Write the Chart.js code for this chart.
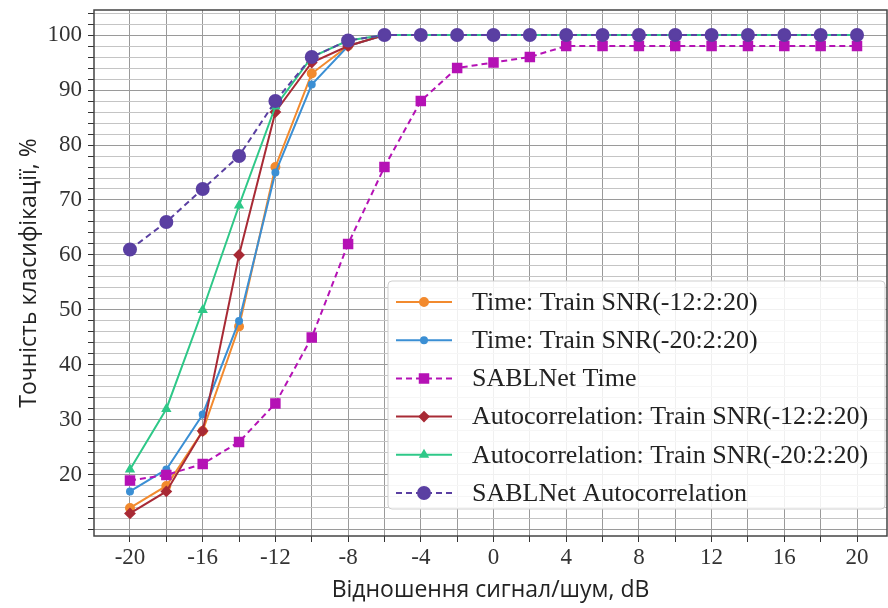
<!DOCTYPE html>
<html>
<head>
<meta charset="utf-8">
<script src="https://cdn.jsdelivr.net/npm/chart.js@4.4.1/dist/chart.umd.min.js"></script>
<style>
  html, body { margin: 0; padding: 0; background: #fff; }
  #wrap { width: 888px; height: 608px; position: relative; }
</style>
</head>
<body>
<div id="wrap"><canvas id="acc" width="888" height="608"></canvas></div>
<script>
// SNR values, dB
let snr = [-20, -18, -16, -14, -12, -10, -8, -6, -4, -2, 0, 2, 4, 6, 8, 10, 12, 14, 16, 18, 20];

// accuracy, %
let timeTrain12 = [14, 18, 28, 47, 76, 93, 98, 100, 100, 100, 100, 100, 100, 100, 100, 100, 100, 100, 100, 100, 100];
let timeTrain20 = [17, 21, 31, 48, 75, 91, 98, 100, 100, 100, 100, 100, 100, 100, 100, 100, 100, 100, 100, 100, 100];
let sablTime = [19, 20, 22, 26, 33, 45, 62, 76, 88, 94, 95, 96, 98, 98, 98, 98, 98, 98, 98, 98, 98];
let autoTrain12 = [13, 17, 28, 60, 86, 95, 98, 100, 100, 100, 100, 100, 100, 100, 100, 100, 100, 100, 100, 100, 100];
let autoTrain20 = [21, 32, 50, 69, 87, 96, 99, 100, 100, 100, 100, 100, 100, 100, 100, 100, 100, 100, 100, 100, 100];
let sablAuto = [61, 66, 72, 78, 88, 96, 99, 100, 100, 100, 100, 100, 100, 100, 100, 100, 100, 100, 100, 100, 100];

let yLabels = [20, 30, 40, 50, 60, 70, 80, 90, 100];
let xLabels = [-20, -16, -12, -8, -4, 0, 4, 8, 12, 16, 20];

const pts = (arr) => arr.map((v, i) => ({ x: snr[i], y: v }));

const serif = "'Liberation Serif', 'Times New Roman', serif";
const sans = "'Open Sans', 'Noto Sans', sans-serif";

// later series sit on top, like the original plot
function series(label, data, color, style, radius, dashed, order) {
  return {
    label: label,
    data: pts(data),
    borderColor: color,
    backgroundColor: color,
    pointBackgroundColor: color,
    pointBorderColor: color,
    pointStyle: style,
    pointRadius: radius,
    borderWidth: 2,
    borderDash: dashed ? [6, 4] : [],
    tension: 0,
    fill: false,
    order: order,
  };
}

// legend drawn inside the plot, lower right
const boxLegend = {
  id: "boxLegend",
  afterDatasetsDraw(chart) {
    const c = chart.ctx;
    const a = chart.chartArea;
    const x0 = 388, y0 = 281, w = a.right - x0 - 2, h = 228;
    c.save();
    c.fillStyle = "rgba(255,255,255,0.85)";
    c.strokeStyle = "#cfcfcf";
    c.lineWidth = 1;
    c.beginPath();
    c.roundRect(x0, y0, w, h, 4);
    c.fill();
    c.stroke();
    c.font = "26px " + serif;
    c.textBaseline = "middle";
    chart.data.datasets.forEach((ds, i) => {
      const y = y0 + 21 + i * 38.2;
      c.strokeStyle = ds.borderColor;
      c.lineWidth = 2;
      c.setLineDash(ds.borderDash);
      c.beginPath();
      c.moveTo(396, y);
      c.lineTo(452, y);
      c.stroke();
      c.setLineDash([]);
      c.fillStyle = ds.borderColor;
      Chart.helpers.drawPoint(c, { pointStyle: ds.pointStyle, radius: ds.pointRadius, borderWidth: 1 }, 424, y);
      c.fillStyle = "#222";
      c.fillText(ds.label, 472, y + 1);
    });
    c.restore();
  },
};

// frame round the plot
const frame = {
  id: "frame",
  beforeDatasetsDraw(chart) {
    const c = chart.ctx;
    const a = chart.chartArea;
    c.save();
    c.strokeStyle = "#444";
    c.lineWidth = 1.5;
    c.strokeRect(a.left, a.top, a.right - a.left, a.bottom - a.top);
    c.restore();
  },
};

const ctx = document.getElementById("acc");
const accChart = new Chart(ctx, {
  type: "line",
  data: {
    datasets: [
      series("Time: Train SNR(-12:2:20)", timeTrain12, "#f28a2e", "circle", 4, false, 6),
      series("Time: Train SNR(-20:2:20)", timeTrain20, "#3b8fd4", "circle", 3, false, 5),
      series("SABLNet Time", sablTime, "#b512b5", "rect", 6, true, 4),
      series("Autocorrelation: Train SNR(-12:2:20)", autoTrain12, "#a82a35", "rectRot", 4.5, false, 3),
      series("Autocorrelation: Train SNR(-20:2:20)", autoTrain20, "#2ec888", "triangle", 4, false, 2),
      series("SABLNet Autocorrelation", sablAuto, "#5a3fa2", "circle", 6, true, 1),
    ],
  },
  options: {
    responsive: false,
    animation: false,
    layout: { autoPadding: false, padding: { top: 10, right: 1, left: 0, bottom: 0 } },
    plugins: {
      legend: { display: false },
      tooltip: { enabled: false },
    },
    scales: {
      x: {
        type: "linear",
        min: -21.98,
        max: 21.65,
        afterFit(s) { s.height = 72; s.paddingLeft = 0; s.paddingRight = 0; },
        afterBuildTicks(s) {
          s.ticks = [];
          for (let v = -20; v <= 20; v += 2) s.ticks.push({ value: v });
        },
        ticks: {
          autoSkip: false,
          maxRotation: 0,
          font: { family: serif, size: 23 },
          color: "#333",
          padding: 2,
          callback: (v) => (xLabels.includes(v) ? String(v) : ""),
        },
        grid: { color: "#9a9a9a", lineWidth: 1, tickLength: 6, tickColor: "#333" },
        border: { display: false },
        title: {
          display: true,
          text: "Відношення сигнал/шум, dB",
          font: { family: sans, size: 23 },
          color: "#222",
          padding: { top: 4, bottom: 4 },
        },
      },
      y: {
        min: 8.9,
        max: 104.55,
        afterFit(s) { s.width = 94; s.paddingTop = 0; s.paddingBottom = 0; },
        afterBuildTicks(s) {
          s.ticks = [];
          for (let v = 10; v <= 104; v += 2) s.ticks.push({ value: v });
        },
        ticks: {
          autoSkip: false,
          font: { family: serif, size: 23 },
          color: "#333",
          padding: 6,
          callback: (v) => (yLabels.includes(v) ? String(v) : ""),
        },
        grid: {
          color: (g) => (g.tick && g.tick.value % 10 === 0 ? "#9a9a9a" : "#c4c4c4"),
          lineWidth: 1,
          tickLength: 6,
          tickColor: "#333",
        },
        border: { display: false },
        title: {
          display: true,
          text: "Точність класифікації, %",
          font: { family: sans, size: 23 },
          color: "#222",
          padding: { top: 16, bottom: 0 },
        },
      },
    },
  },
  plugins: [frame, boxLegend],
});
</script>
</body>
</html>
